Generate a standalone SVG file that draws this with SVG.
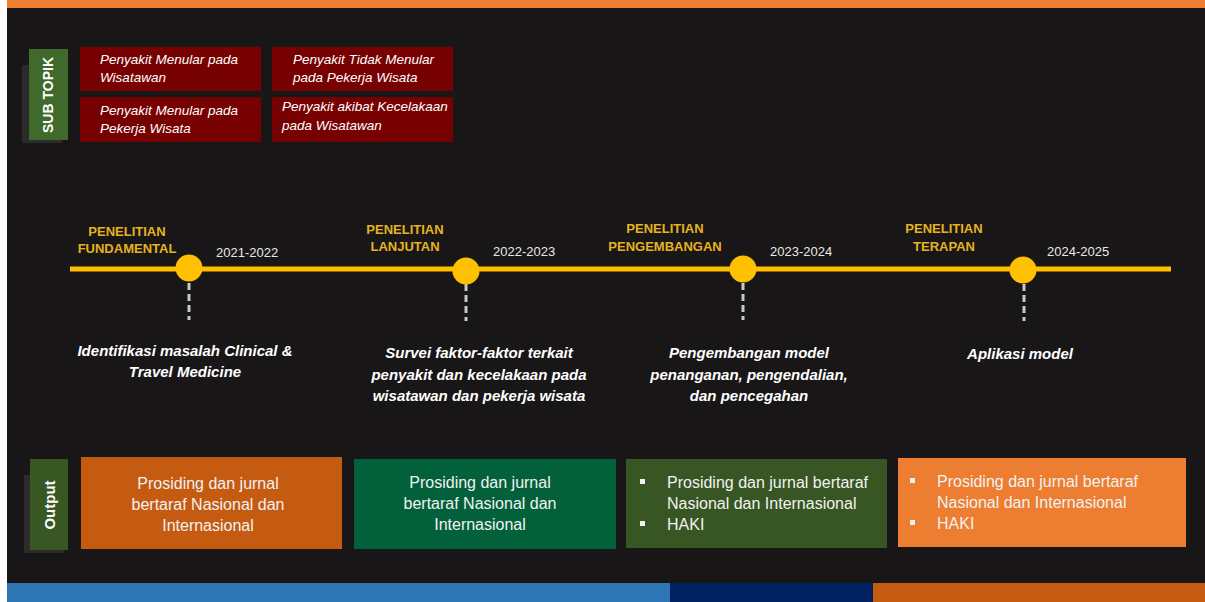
<svg xmlns="http://www.w3.org/2000/svg" width="1205" height="602" viewBox="0 0 1205 602">
<style>
.sub{fill:#770000}
.subt{font-family:"Liberation Sans",Arial,sans-serif;font-style:italic;font-size:13.5px;fill:#ffffff}
.hdr{font-family:"Liberation Sans",Arial,sans-serif;font-weight:bold;font-size:13px;fill:#E6B31E;text-anchor:middle}
.yr{font-family:"Liberation Sans",Arial,sans-serif;font-size:13px;fill:#e8e8e8}
.desc{font-family:"Liberation Sans",Arial,sans-serif;font-weight:bold;font-style:italic;font-size:15px;fill:#ffffff;text-anchor:middle}
.out{font-family:"Liberation Sans",Arial,sans-serif;font-size:16px;fill:#f2f2f2}
.mid{text-anchor:middle}
.vlab{font-family:"Liberation Sans",Arial,sans-serif;font-weight:bold;fill:#ffffff;text-anchor:middle}
.dot{fill:#FFC000}
.dash{stroke:#c8c8c8;stroke-width:3;stroke-dasharray:7 4;fill:none}
</style>
<rect x="0" y="0" width="1205" height="602" fill="#ffffff"/>
<rect x="7" y="0" width="1198" height="602" fill="#181617"/>
<rect x="7" y="0" width="1198" height="8" fill="#ED7D31"/>
<rect x="7" y="583" width="663" height="19" fill="#2E75B6"/>
<rect x="670" y="583" width="203" height="19" fill="#002060"/>
<rect x="873" y="583" width="332" height="19" fill="#C55A11"/>

<g id="subtopik-label">
<rect x="22" y="65" width="40" height="78" fill="#2b2b2b"/>
<rect x="29" y="49" width="39" height="91" fill="#3F6A2C"/>
<text class="vlab" font-size="14" transform="translate(53,95) rotate(-90)">SUB TOPIK</text>
</g>
<g id="sub1"><rect class="sub" x="80" y="47" width="181" height="44"/>
<text class="subt" x="100" y="64">Penyakit Menular pada</text><text class="subt" x="100" y="82">Wisatawan</text></g>
<g id="sub2"><rect class="sub" x="80" y="97" width="181" height="45"/>
<text class="subt" x="100" y="115">Penyakit Menular pada</text><text class="subt" x="100" y="133">Pekerja Wisata</text></g>
<g id="sub3"><rect class="sub" x="272" y="47" width="181" height="44"/>
<text class="subt" x="293" y="64">Penyakit Tidak Menular</text><text class="subt" x="293" y="82">pada Pekerja Wisata</text></g>
<g id="sub4"><rect class="sub" x="272" y="97" width="181" height="45"/>
<text class="subt" x="282" y="111">Penyakit akibat Kecelakaan</text><text class="subt" x="282" y="130">pada Wisatawan</text></g>

<g id="connectors">
<line x1="70" y1="269" x2="1171" y2="269" stroke="#FFC000" stroke-width="5"/>
<line class="dash" x1="189" y1="283" x2="189" y2="320"/>
<line class="dash" x1="466" y1="284" x2="466" y2="321"/>
<line class="dash" x1="743" y1="283" x2="743" y2="320"/>
<line class="dash" x1="1024" y1="284" x2="1024" y2="321"/>
</g>

<g id="stage1">
<circle class="dot" cx="189" cy="268" r="13.5"/>
<text class="hdr" x="127" y="236">PENELITIAN</text><text class="hdr" x="127" y="253">FUNDAMENTAL</text>
<text class="yr" x="216" y="257">2021-2022</text>
<text class="desc" x="185" y="356">Identifikasi masalah Clinical &amp;</text>
<text class="desc" x="185" y="377">Travel Medicine</text>
</g>
<g id="stage2">
<circle class="dot" cx="466" cy="271" r="13.5"/>
<text class="hdr" x="405" y="234">PENELITIAN</text><text class="hdr" x="405" y="251">LANJUTAN</text>
<text class="yr" x="493" y="256">2022-2023</text>
<text class="desc" x="479" y="358">Survei faktor-faktor terkait</text>
<text class="desc" x="479" y="380">penyakit dan kecelakaan pada</text>
<text class="desc" x="479" y="401">wisatawan dan pekerja wisata</text>
</g>
<g id="stage3">
<circle class="dot" cx="743" cy="269" r="13.5"/>
<text class="hdr" x="665" y="233">PENELITIAN</text><text class="hdr" x="665" y="251">PENGEMBANGAN</text>
<text class="yr" x="770" y="256">2023-2024</text>
<text class="desc" x="749" y="358">Pengembangan model</text>
<text class="desc" x="749" y="380">penanganan, pengendalian,</text>
<text class="desc" x="749" y="401">dan pencegahan</text>
</g>
<g id="stage4">
<circle class="dot" cx="1023" cy="270" r="13.5"/>
<text class="hdr" x="944" y="233">PENELITIAN</text><text class="hdr" x="944" y="251">TERAPAN</text>
<text class="yr" x="1047" y="256">2024-2025</text>
<text class="desc" x="1020" y="359">Aplikasi model</text>
</g>

<g id="output-label">
<rect x="24" y="475" width="40" height="78" fill="#2b2b2b"/>
<rect x="30" y="459" width="38" height="91" fill="#385723"/>
<text class="vlab" font-size="15" transform="translate(55,505) rotate(-90)">Output</text>
</g>
<g id="out1"><rect x="81" y="457" width="261" height="92" fill="#C55A11"/>
<text class="out mid" x="208" y="489">Prosiding dan jurnal</text>
<text class="out mid" x="208" y="510">bertaraf Nasional dan</text>
<text class="out mid" x="208" y="531">Internasional</text></g>
<g id="out2"><rect x="354" y="459" width="262" height="90" fill="#02603A"/>
<text class="out mid" x="480" y="488">Prosiding dan jurnal</text>
<text class="out mid" x="480" y="509">bertaraf Nasional dan</text>
<text class="out mid" x="480" y="530">Internasional</text></g>
<g id="out3"><rect x="626" y="459" width="261" height="89" fill="#375623"/>
<rect x="640" y="479" width="5" height="5" fill="#f2f2f2"/>
<rect x="640" y="521" width="5" height="5" fill="#f2f2f2"/>
<text class="out" x="667" y="488">Prosiding dan jurnal bertaraf</text>
<text class="out" x="667" y="509">Nasional dan Internasional</text>
<text class="out" x="667" y="530">HAKI</text></g>
<g id="out4"><rect x="898" y="458" width="288" height="89" fill="#ED7D31"/>
<rect x="910" y="478" width="5" height="5" fill="#f2f2f2"/>
<rect x="910" y="520" width="5" height="5" fill="#f2f2f2"/>
<text class="out" x="937" y="487">Prosiding dan jurnal bertaraf</text>
<text class="out" x="937" y="508">Nasional dan Internasional</text>
<text class="out" x="937" y="529">HAKI</text></g>
</svg>
